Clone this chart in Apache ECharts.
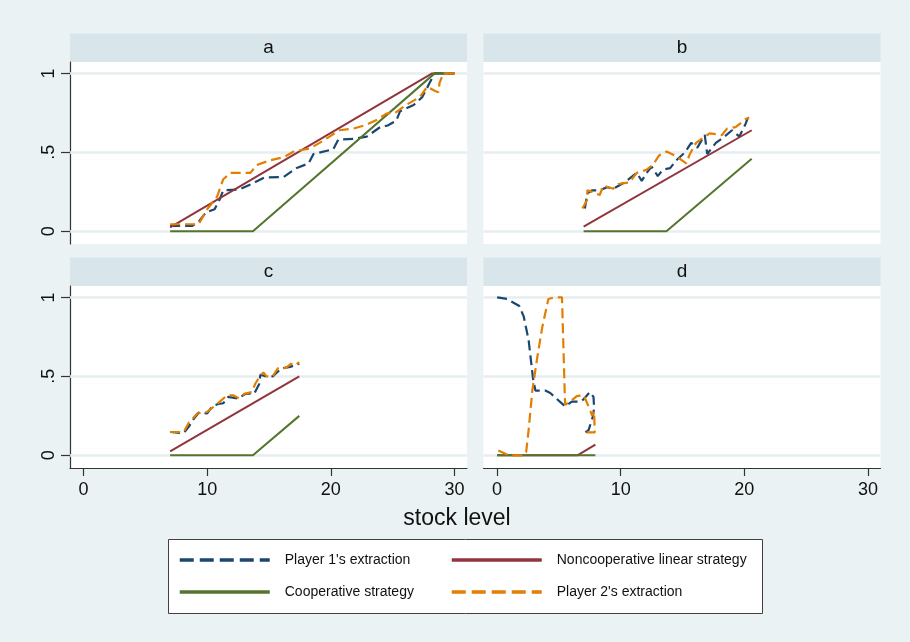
<!DOCTYPE html>
<html><head><meta charset="utf-8">
<script src="https://cdn.jsdelivr.net/npm/echarts@6.0.0/dist/echarts.min.js"></script>
<style>html,body{margin:0;padding:0;background:#eaf2f3;}#c{width:910px;height:642px;}</style>
</head><body><div id="c"></div>
<script>
// ---------- data ----------
const xTicks = [0, 10, 20, 30];
const yTicks = [0, 0.5, 1];
const yTickText = { '0': '0', '0.5': '.5', '1': '1' };
const panelLabels = ['a', 'b', 'c', 'd'];
const seriesNames = ["Player 1's extraction", "Noncooperative linear strategy", "Cooperative strategy", "Player 2's extraction"];
const axisTitle = 'stock level';

const P1_A = [[7.0,0.035],[8.8,0.035],[9.3,0.06],[9.9,0.12],[10.6,0.14],[11.0,0.2],[11.3,0.26],[12.6,0.265],[13.6,0.3],[14.6,0.34],[16.2,0.345],[17.2,0.4],[18.2,0.43],[18.6,0.49],[20.2,0.52],[20.6,0.58],[21.8,0.585],[22.9,0.6],[24.0,0.66],[24.6,0.67],[25.3,0.7],[25.6,0.76],[26.7,0.8],[27.4,0.85],[28.0,0.94],[28.4,1.0],[30,1.0]];
const P2_A = [[7.0,0.045],[9.3,0.045],[10.0,0.14],[10.8,0.22],[11.3,0.33],[11.9,0.37],[13.5,0.37],[14.0,0.42],[15.1,0.45],[16.2,0.47],[17.0,0.505],[18.3,0.525],[19.1,0.56],[19.9,0.6],[20.7,0.64],[21.8,0.65],[22.9,0.675],[23.7,0.705],[24.5,0.745],[25.3,0.755],[26.1,0.8],[27.2,0.85],[27.8,0.915],[28.4,0.89],[28.7,0.88],[28.8,0.94],[29.1,1.0],[30,1.0]];
const NC_A = [[7.0,0.025],[28.2,1.0],[30,1.0]];
const CO_A = [[7.0,0],[13.7,0],[28.4,1.0],[30,1.0]];

const P1_B = [[7.1,0.145],[7.3,0.24],[7.7,0.26],[8.3,0.26],[8.9,0.28],[9.4,0.27],[10.3,0.31],[11.3,0.37],[11.7,0.32],[12.1,0.37],[12.5,0.41],[13.0,0.35],[13.4,0.39],[14.0,0.4],[14.5,0.45],[15.2,0.5],[15.7,0.56],[16.2,0.53],[16.8,0.61],[17.0,0.49],[17.7,0.56],[18.4,0.6],[19.0,0.64],[19.6,0.6],[20.1,0.68],[20.3,0.72]];
const P2_B = [[6.9,0.145],[7.3,0.2],[7.3,0.26],[7.7,0.25],[8.3,0.23],[8.6,0.29],[9.4,0.27],[9.8,0.3],[10.7,0.31],[11.3,0.37],[12.1,0.39],[12.6,0.42],[13.1,0.48],[13.7,0.505],[14.5,0.475],[15.3,0.43],[15.6,0.49],[16.1,0.56],[16.8,0.6],[17.2,0.62],[18.2,0.61],[18.6,0.65],[19.3,0.66],[20.1,0.71],[20.4,0.72]];
const NC_B = [[7.0,0.03],[20.6,0.64]];
const CO_B = [[7.0,0],[13.7,0],[20.6,0.46]];

const P1_C = [[7.0,0.148],[8.1,0.14],[8.5,0.18],[8.9,0.23],[9.3,0.27],[10.0,0.265],[10.4,0.31],[10.9,0.325],[11.3,0.33],[11.7,0.37],[12.5,0.36],[13.1,0.39],[13.8,0.39],[14.2,0.45],[14.3,0.51],[14.8,0.5],[15.3,0.5],[16.0,0.55],[16.7,0.56],[17.45,0.58]];
const P2_C = [[7.0,0.148],[8.1,0.148],[8.5,0.205],[9.2,0.265],[10.0,0.275],[10.8,0.325],[11.6,0.38],[12.1,0.38],[12.6,0.36],[13.0,0.39],[13.6,0.4],[13.9,0.455],[14.3,0.505],[14.55,0.525],[14.8,0.5],[15.3,0.5],[15.7,0.55],[16.4,0.555],[16.8,0.58],[17.1,0.57],[17.45,0.59]];
const NC_C = [[7.0,0.025],[17.45,0.5]];
const CO_C = [[7.0,0],[13.7,0],[17.45,0.25]];

const P1_D = [[0,1.0],[0.8,0.99],[1.8,0.945],[2.15,0.88],[2.55,0.73],[2.9,0.49],[3.1,0.41],[3.9,0.41],[4.3,0.395],[5.5,0.31],[6.05,0.34],[6.7,0.34],[7.0,0.355],[7.5,0.4],[7.8,0.37],[7.85,0.3],[7.75,0.245],[7.4,0.16],[7.1,0.143]];
const P2_D = [[0.1,0.03],[0.95,0],[2.15,0],[2.35,0.02],[2.55,0.16],[2.85,0.41],[3.25,0.62],[3.65,0.81],[4.15,0.99],[4.6,1.0],[5.25,1.0],[5.5,0.32],[5.9,0.34],[6.45,0.375],[7.0,0.38],[7.4,0.31],[7.7,0.25],[7.85,0.28],[7.9,0.145],[7.0,0.145]];
const NC_D = [[0,0],[6.5,0],[7.95,0.068]];
const CO_D = [[0,0],[7.95,0]];

// ---------- layout / style ----------
const FONT = "'Liberation Sans', Arial, Helvetica, sans-serif";
const COLORS = ['#1a476f', '#90353b', '#55752f', '#e37e00'];
const DASHED = [true, false, false, true];
const panels = [
  { left: 70,    top: 62,  showY: true,  showX: false, data: [P1_A, NC_A, CO_A, P2_A] },
  { left: 483.5, top: 62,  showY: false, showX: false, data: [P1_B, NC_B, CO_B, P2_B] },
  { left: 70,    top: 286, showY: true,  showX: true,  data: [P1_C, NC_C, CO_C, P2_C] },
  { left: 483.5, top: 286, showY: false, showX: true,  data: [P1_D, NC_D, CO_D, P2_D] }
];
const GW = 397, GH = 182, STRIP = 28.5;

const grid = [], xAxis = [], yAxis = [], series = [], graphics = [];
panels.forEach((p, i) => {
  grid.push({ left: p.left, top: p.top, width: GW, height: GH, show: true, backgroundColor: '#ffffff', borderWidth: 0 });
  xAxis.push({
    type: 'value', gridIndex: i, min: -1.1, max: 31.02,
    axisLine: { show: p.showX, onZero: false, lineStyle: { color: '#333333', width: 1.2 } },
    axisTick: { show: p.showX, length: 8, customValues: xTicks, lineStyle: { color: '#333333', width: 1.2 } },
    axisLabel: { show: p.showX, customValues: xTicks, fontSize: 18, margin: 13, color: '#111111', fontFamily: FONT },
    splitLine: { show: false }
  });
  yAxis.push({
    type: 'value', gridIndex: i, min: -0.08, max: 1.072,
    axisLine: { show: p.showY, onZero: false, lineStyle: { color: '#333333', width: 1.2 } },
    axisTick: { show: p.showY, length: 9, customValues: yTicks, lineStyle: { color: '#333333', width: 1.2 } },
    axisLabel: { show: p.showY, customValues: yTicks, rotate: 90, fontSize: 18, margin: 12, color: '#111111', fontFamily: FONT,
      formatter: v => yTickText[String(v)] !== undefined ? yTickText[String(v)] : String(v) },
    splitLine: { show: false }
  });
  series.push({
    type: 'line', name: 'grid' + i, xAxisIndex: i, yAxisIndex: i, data: [[-50, -50]],
    symbol: 'none', lineStyle: { opacity: 0 }, silent: true, z: 1,
    markLine: { silent: true, z: 1, symbol: ['none', 'none'], label: { show: false }, animation: false,
      lineStyle: { color: '#e6eef1', width: 2.5, type: 'solid' },
      emphasis: { disabled: true },
      data: yTicks.map(v => ({ yAxis: v })) }
  });
  p.data.forEach((d, k) => {
    series.push({
      type: 'line', name: seriesNames[k], xAxisIndex: i, yAxisIndex: i, data: d,
      symbol: 'none', showSymbol: false, z: 3 + k, animation: false,
      itemStyle: { color: COLORS[k] },
      lineStyle: { color: COLORS[k], width: DASHED[k] ? 2.2 : 2, type: DASHED[k] ? [10, 5] : 'solid' },
      emphasis: { disabled: true }
    });
  });
  graphics.push({ type: 'rect', z: 0, shape: { x: p.left, y: p.top - STRIP, width: GW, height: STRIP }, style: { fill: '#d8e5eb' } });
  graphics.push({ type: 'text', z: 1, style: { text: panelLabels[i], x: p.left + GW / 2, y: p.top - STRIP / 2, align: 'center', verticalAlign: 'middle', font: '19px ' + FONT, fill: '#111111' } });
});

graphics.push({ type: 'text', z: 1, style: { text: axisTitle, x: 457, y: 519, align: 'center', verticalAlign: 'middle', font: '23px ' + FONT, fill: '#111111' } });
graphics.push({ type: 'rect', z: 0, shape: { x: 168.5, y: 539.5, width: 594, height: 74 }, style: { fill: '#ffffff', stroke: '#404040', lineWidth: 1 } });

const legendItem = k => ({ name: seriesNames[k], lineStyle: { width: 3.5, type: DASHED[k] ? [14, 6] : 'solid', color: COLORS[k] } });
const legendBase = {
  orient: 'vertical', top: 553, itemWidth: 90, itemHeight: 14, itemGap: 18, padding: 0, selectedMode: false,
  itemStyle: { opacity: 0 },
  textStyle: { fontSize: 14, color: '#111111', fontFamily: FONT, padding: [0, 0, 0, 10] }
};

const option = {
  animation: false,
  backgroundColor: '#eaf2f3',
  grid, xAxis, yAxis, series,
  legend: [
    Object.assign({}, legendBase, { left: 178, data: [legendItem(0), legendItem(2)] }),
    Object.assign({}, legendBase, { left: 450, data: [legendItem(1), legendItem(3)] })
  ],
  graphic: { elements: graphics }
};
const chart = echarts.init(document.getElementById('c'), null, { renderer: 'canvas' });
chart.setOption(option);
</script></body></html>
